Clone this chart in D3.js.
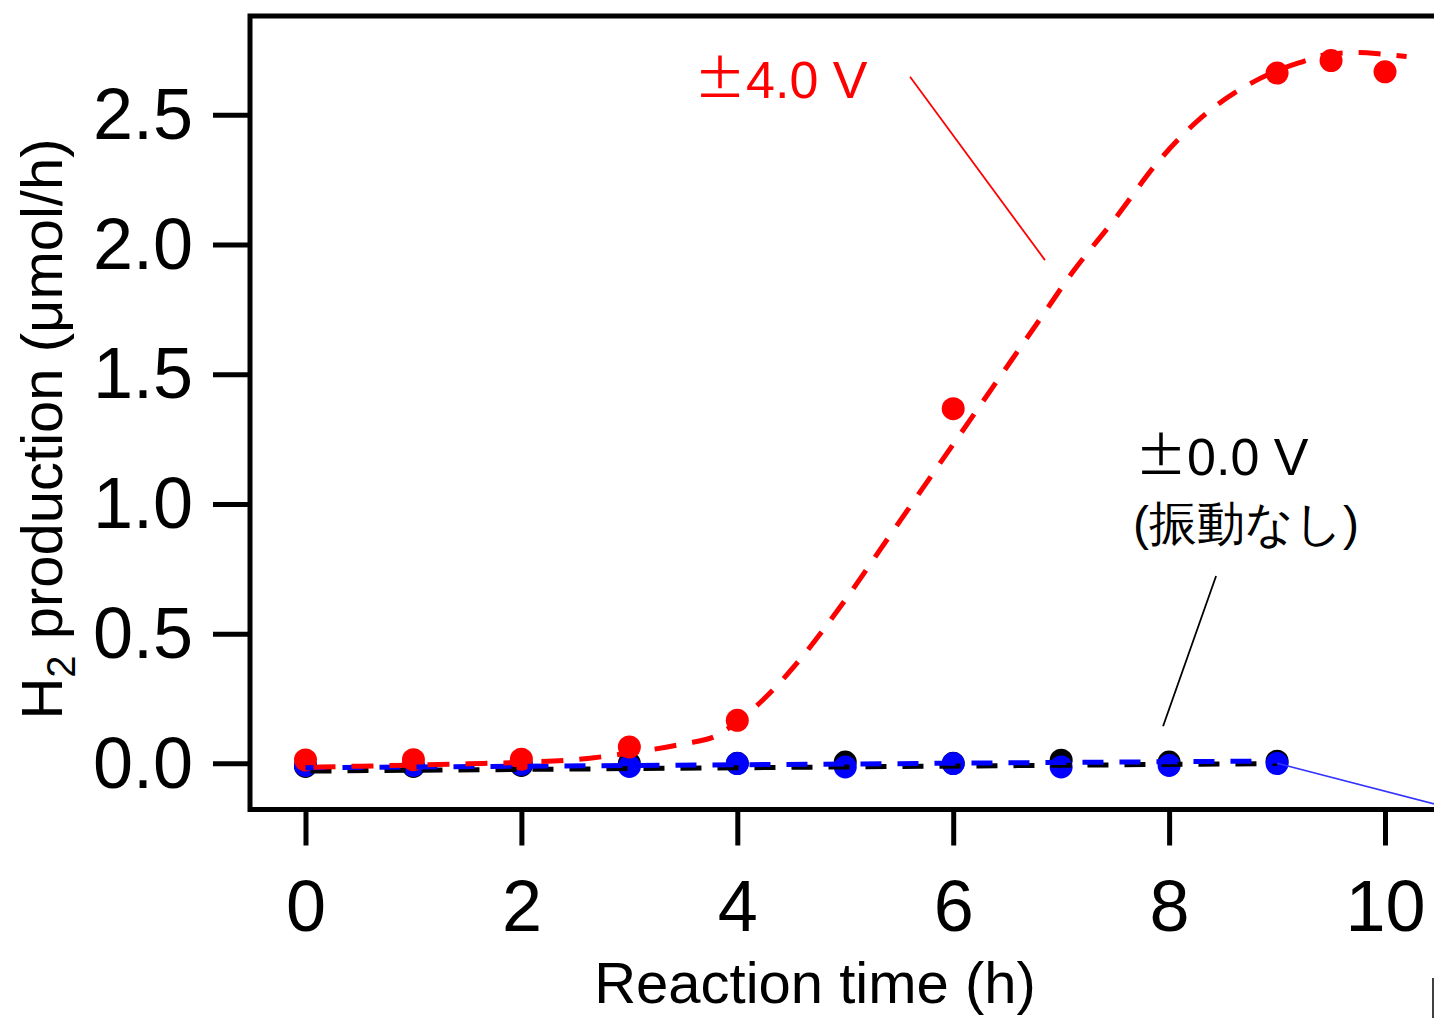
<!DOCTYPE html>
<html>
<head>
<meta charset="utf-8">
<script src="https://cdn.jsdelivr.net/npm/d3@7"></script>
<style>
  html, body { margin: 0; padding: 0; background: #fff; }
  svg { display: block; }
  text { font-family: "Liberation Sans", Arial, sans-serif; }
</style>
</head>
<body>
<svg id="chart" width="1434" height="1018"></svg>
<script>
// Hourly sampling times (h)
const hours = [0, 1, 2, 3, 4, 5, 6, 7, 8, 9];
// ±0.0 V (no vibration), two runs
const h2NoVibBlack = [-0.012, -0.012, -0.008, 0.0, 0.0, 0.005, 0.0, 0.012, 0.005, 0.008];
const h2NoVibBlue  = [-0.008, -0.008, -0.004, -0.012, -0.001, -0.014, -0.001, -0.014, -0.008, -0.001];
// ±4.0 V measurements
const hours4V = [0, 1, 2, 3, 4, 6, 9, 9.5, 10];
const h2Vib4V = [0.013, 0.014, 0.016, 0.063, 0.166, 1.367, 2.661, 2.709, 2.666];
// Fitted curve for ±4.0 V
const fitHours4V = [0, 0.5, 1, 1.5, 2, 2.5, 3, 3.5, 3.8, 4, 4.3, 4.6, 5, 5.4, 5.8, 6, 6.4, 6.8, 7.1, 7.5, 7.9, 8.3, 8.75, 9, 9.2, 9.5, 9.75, 10, 10.2];
const fitH2Vib4V = [-0.016, -0.011, -0.007, -0.002, 0.004, 0.014, 0.040, 0.075, 0.105, 0.16, 0.27, 0.41, 0.63, 0.87, 1.11, 1.23, 1.47, 1.71, 1.89, 2.10, 2.32, 2.49, 2.62, 2.67, 2.70, 2.735, 2.74, 2.733, 2.725];
// Linear fits for ±0.0 V
const fitHoursNoVib = [0, 9];
const fitNoVibBlack = [-0.030, -0.001];
const fitNoVibBlue  = [-0.017, 0.009];
// Axis ticks
const xTicks = [0, 2, 4, 6, 8, 10];
const yTicks = [0, 0.5, 1.0, 1.5, 2.0, 2.5];
// Annotation leaders [time, value]
const leader4V = [[5.60, 2.647], [6.85, 1.940]];
const leaderNoVib = [[8.435, 0.722], [7.944, 0.143]];
const leaderBlueOut = [[9, 0.0], [11, -0.215]];

const svg = d3.select("#chart");
const W = 1434, H = 1018;
svg.append("rect").attr("width", W).attr("height", H).attr("fill", "#fff");

const plot = { left: 250, top: 16, right: 1439, bottom: 809.5 };
const x = d3.scaleLinear().domain([-0.514, 10.5]).range([plot.left, plot.right]);
const y = d3.scaleLinear().domain([-0.178, 2.881]).range([plot.bottom, plot.top]);

// Axes
const yAxis = d3.axisLeft(y).tickValues(yTicks).tickFormat(d3.format(".1f"))
  .tickSize(37).tickPadding(20);
const gy = svg.append("g").attr("transform", `translate(${plot.left},0)`).call(yAxis);
gy.select(".domain").remove();
gy.selectAll(".tick line").attr("stroke", "#000").attr("stroke-width", 5);
gy.selectAll(".tick text").attr("font-size", 72).attr("fill", "#000")
  .attr("font-family", "Liberation Sans, Arial, sans-serif").attr("dy", "0.33em");

const xAxis = d3.axisBottom(x).tickValues(xTicks).tickFormat(d3.format("d"))
  .tickSize(36).tickPadding(34);
const gx = svg.append("g").attr("transform", `translate(0,${plot.bottom})`).call(xAxis);
gx.select(".domain").remove();
gx.selectAll(".tick line").attr("stroke", "#000").attr("stroke-width", 5);
gx.selectAll(".tick text").attr("font-size", 72).attr("fill", "#000")
  .attr("font-family", "Liberation Sans, Arial, sans-serif");

// Plot frame
svg.append("rect")
  .attr("x", plot.left).attr("y", plot.top)
  .attr("width", plot.right - plot.left).attr("height", plot.bottom - plot.top)
  .attr("fill", "none").attr("stroke", "#000").attr("stroke-width", 5);

// Axis titles
svg.append("text")
  .attr("x", 815).attr("y", 1003)
  .attr("text-anchor", "middle").attr("font-size", 58).attr("fill", "#000")
  .text("Reaction time (h)");

const yt = svg.append("text")
  .attr("transform", "translate(62,429) rotate(-90)")
  .attr("text-anchor", "middle").attr("font-size", 58).attr("fill", "#000");
yt.append("tspan").text("H");
yt.append("tspan").attr("font-size", 40).attr("dy", 13).text("2");
yt.append("tspan").attr("dy", -13).text(" production (μmol/h)");

// Markers
const R = 11.5;
svg.append("g").selectAll("circle").data(hours).join("circle")
  .attr("cx", (d) => x(d)).attr("cy", (d, i) => y(h2NoVibBlack[i])).attr("r", R).attr("fill", "#000");
svg.append("g").selectAll("circle").data(hours).join("circle")
  .attr("cx", (d) => x(d)).attr("cy", (d, i) => y(h2NoVibBlue[i])).attr("r", R).attr("fill", "#0000ff");
svg.append("g").selectAll("circle").data(hours4V).join("circle")
  .attr("cx", (d) => x(d)).attr("cy", (d, i) => y(h2Vib4V[i])).attr("r", R).attr("fill", "#ff0000");

// Fit lines
const line = d3.line().x((d) => x(d[0])).y((d) => y(d[1]));
svg.append("path")
  .attr("d", line(fitHoursNoVib.map((t, i) => [t, fitNoVibBlack[i]])))
  .attr("fill", "none").attr("stroke", "#000").attr("stroke-width", 5)
  .attr("stroke-dasharray", "21,16").attr("stroke-dashoffset", -5);
svg.append("path")
  .attr("d", line(fitHoursNoVib.map((t, i) => [t, fitNoVibBlue[i]])))
  .attr("fill", "none").attr("stroke", "#0000ff").attr("stroke-width", 5)
  .attr("stroke-dasharray", "21,16");
svg.append("path")
  .attr("d", line.curve(d3.curveMonotoneX)(fitHours4V.map((t, i) => [t, fitH2Vib4V[i]])))
  .attr("fill", "none").attr("stroke", "#ff0000").attr("stroke-width", 5)
  .attr("stroke-dasharray", "22,16").attr("stroke-dashoffset", -8);

const straight = d3.line().x((d) => x(d[0])).y((d) => y(d[1]));
svg.append("path").attr("d", straight(leaderBlueOut))
  .attr("stroke", "#3333ff").attr("stroke-width", 1.6).attr("fill", "none");

// Annotations
svg.append("path").attr("d", straight(leader4V))
  .attr("stroke", "#ff0000").attr("stroke-width", 1.8).attr("fill", "none");
svg.append("path").attr("d", straight(leaderNoVib))
  .attr("stroke", "#000").attr("stroke-width", 1.8).attr("fill", "none");

const lab4 = svg.append("text").attr("x", 694).attr("y", 98)
  .attr("font-size", 52).attr("fill", "#ff0000");
lab4.append("tspan").attr("font-family", "Noto Sans CJK JP").text("±");
lab4.append("tspan").text("4.0 V");

const lab0 = svg.append("text").attr("x", 1135).attr("y", 475)
  .attr("font-size", 52).attr("fill", "#000");
lab0.append("tspan").attr("font-family", "Noto Sans CJK JP").text("±");
lab0.append("tspan").text("0.0 V");
svg.append("text").attr("x", 1133).attr("y", 540)
  .attr("font-size", 48).attr("fill", "#000")
  .attr("font-family", "Liberation Sans, Noto Sans CJK JP, sans-serif")
  .text("(振動なし)");

// Edge mark at lower right
svg.append("line").attr("x1", 1433).attr("x2", 1433).attr("y1", 978).attr("y2", 1018)
  .attr("stroke", "#000").attr("stroke-width", 1.5);
</script>
</body>
</html>
